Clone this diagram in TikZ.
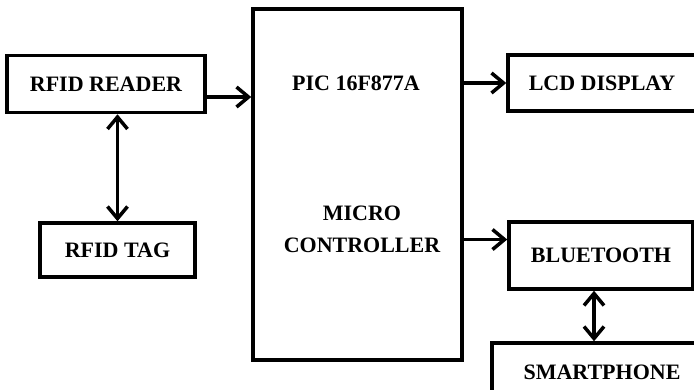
\documentclass[tikz,border=0pt]{standalone}
\usepackage{fontspec}
\setmainfont{Liberation Serif}
\usepackage{tikz}
\usetikzlibrary{arrows.meta}

\begin{document}
\begin{tikzpicture}[x=1pt, y=-1pt, line width=3.5pt,
    >={Straight Barb[length=12pt,width=20pt,line width=3.5pt]},
    block/.style={draw, inner sep=0pt, font=\fontsize{22}{32}\selectfont\bfseries},
    label/.style={inner sep=0pt, align=center, font=\fontsize{22}{32}\selectfont\bfseries}]
  \useasboundingbox (0,0) rectangle (694,389);
  \clip (0,0) rectangle (694,389);
  % blocks
  \node[block, minimum width=198pt, minimum height=57pt] (reader) at (106,84) {RFID READER};
  \node[block, minimum width=155pt, minimum height=54pt] (tag) at (117.5,250) {RFID TAG};
  \node[block, minimum width=209pt, minimum height=351pt] (mcu) at (357.5,184.5) {};
  \node[label] (mcutype) at (356,83) {PIC 16F877A};
  \node[label] (mcuname) at (362,229) {MICRO\\CONTROLLER};
  \node[block, minimum width=188pt, minimum height=56pt] (lcd) at (602,83) {LCD DISPLAY};
  \node[block, minimum width=184pt, minimum height=67pt] (bt) at (601,255.5) {BLUETOOTH};
  \node[block, minimum width=220pt, minimum height=58pt] (phone) at (602,372) {SMARTPHONE};
  % connections
  \draw[->] ([yshift=-13pt]reader.east) -- ([yshift=-13pt]reader.east -| mcu.west);
  \draw[<->] (tag.north) -- (tag.north |- reader.south);
  \draw[->] (mcu.east |- lcd.west) -- (lcd.west);
  \draw[->] ([yshift=16pt]bt.west -| mcu.east) -- ([yshift=16pt]bt.west);
  \draw[<->] ([xshift=-7pt]bt.south) -- ([xshift=-7pt]bt.south |- phone.north);
\end{tikzpicture}
\end{document}
